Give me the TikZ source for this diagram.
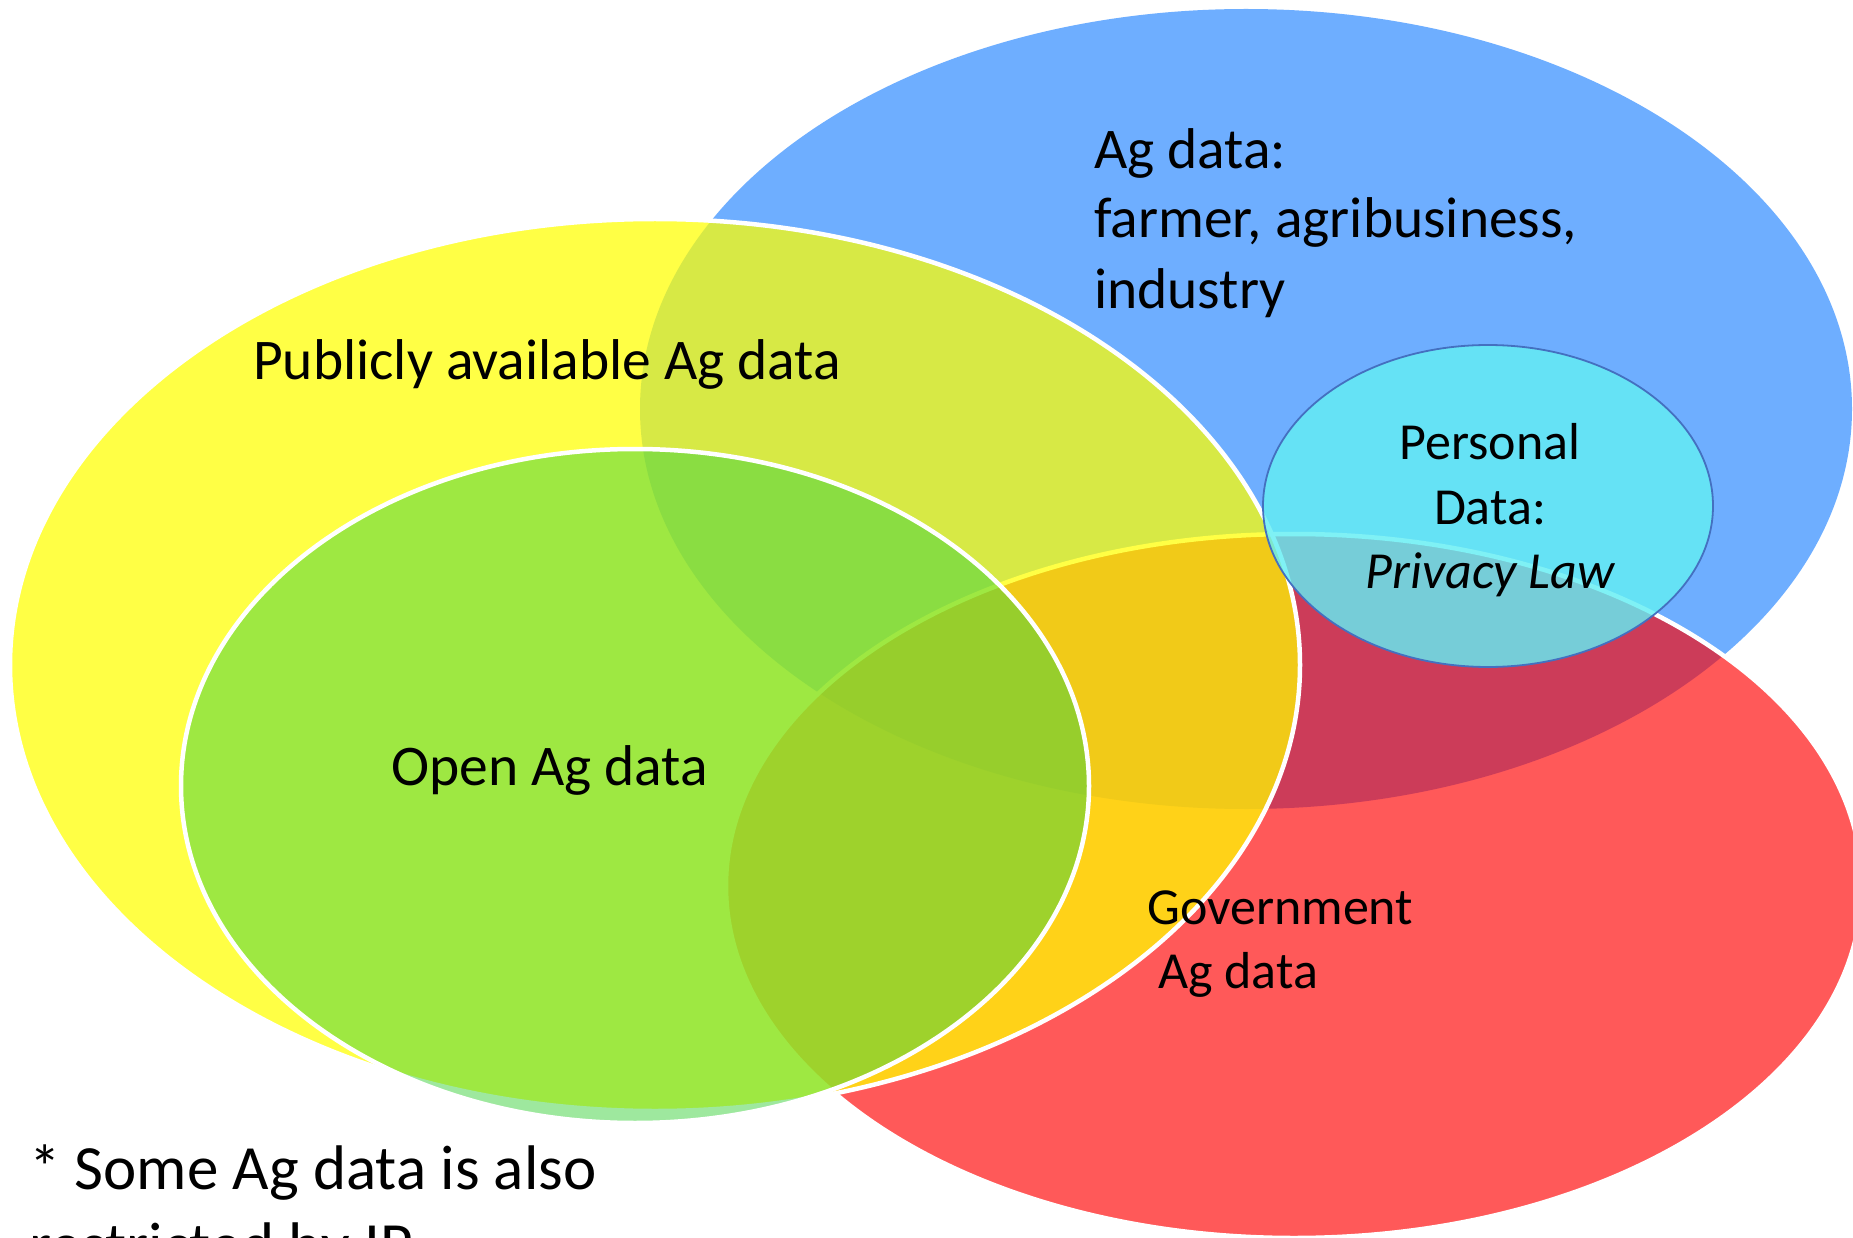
\documentclass[tikz,border=0pt]{standalone}
\usepackage{fontspec}
\setmainfont{Carlito}
\definecolor{cblue}{HTML}{6EAEFF}
\definecolor{cred}{HTML}{FF0000}
\definecolor{cyellow}{HTML}{FFFF00}
\definecolor{cgreen}{HTML}{41D241}
\definecolor{ccyan}{HTML}{64EEF4}
\definecolor{cedge}{HTML}{4470C0}
\tikzset{
  setA/.style={fill=cblue},
  setB/.style={fill=cred, fill opacity=0.65, draw=white, draw opacity=1, line width=4.5pt},
  setC/.style={fill=cyellow, fill opacity=0.73, draw=white, draw opacity=1, line width=4.5pt},
  setD/.style={fill=cgreen, fill opacity=0.51, draw=white, draw opacity=1, line width=4.5pt},
  setE/.style={fill=ccyan, fill opacity=0.82, draw=cedge, draw opacity=1, line width=1.8pt},
  lbl/.style={inner sep=0pt, text=black, font=\fontsize{57.5}{70}\selectfont},
  lblsmall/.style={inner sep=0pt, text=black, font=\fontsize{52}{64}\selectfont},
  lblnote/.style={inner sep=0pt, text=black, font=\fontsize{63}{77}\selectfont}
}
\begin{document}
\begin{tikzpicture}[x=1pt,y=-1pt]
\useasboundingbox (0,0) rectangle (1853,1238);
\clip (0,0) rectangle (1853,1238);
\fill[white] (0,0) rectangle (1853,1238);
% sets
\path[setA] (1246,409) ellipse [x radius=606pt, y radius=400pt];
\path[setB] (1294,886) ellipse [x radius=568pt, y radius=352pt];
\path[setC] (655,665) ellipse [x radius=645pt, y radius=446pt];
\path[setD] (635,786) ellipse [x radius=454pt, y radius=337pt];
\path[setE] (1488,506) ellipse [x radius=225pt, y radius=161pt];
% labels
\node[lbl, anchor=base west] (ag1) at (1094,169) {Ag data:};
\node[lbl, anchor=base west] (ag2) at (1094,238) {farmer, agribusiness,};
\node[lbl, anchor=base west] (ag3) at (1094,309) {industry};
\node[lbl, anchor=base west] (pub) at (253,380) {Publicly available Ag data};
\node[lbl, anchor=base west] (open) at (391,785) {Open Ag data};
\node[lblsmall, anchor=base] (pd1) at (1490,460) {Personal};
\node[lblsmall, anchor=base] (pd2) at (1490,524) {Data:};
\node[lblsmall, anchor=base] (pd3) at (1490,588) {\itshape Privacy Law};
\node[lblsmall, anchor=base west] (gov1) at (1147,924) {Government};
\node[lblsmall, anchor=base west] (gov2) at (1158,988) {Ag data};
\node[lblnote, anchor=base west] (note1) at (29,1189) {* Some Ag data is also};
\node[lblnote, anchor=base west] (note2) at (29,1266) {restricted by IP};
\end{tikzpicture}
\end{document}
